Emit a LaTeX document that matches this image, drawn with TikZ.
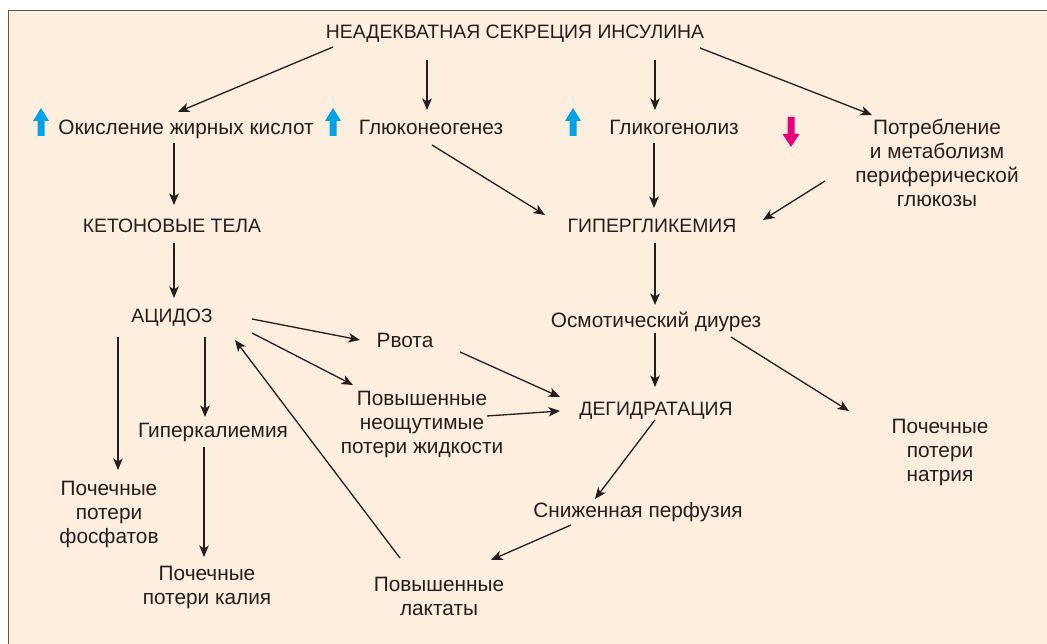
\documentclass[tikz,border=0pt]{standalone}
\usepackage{fontspec}
\setmainfont{Liberation Sans}
\usetikzlibrary{arrows.meta}
\definecolor{paper}{HTML}{FDEEDD}
\definecolor{frameline}{HTML}{5A5552}
\definecolor{ink}{HTML}{231F20}
\definecolor{upblue}{HTML}{00A3E4}
\definecolor{downpink}{HTML}{E6007E}
\begin{document}
\begin{tikzpicture}[x=1pt,y=-1pt,
  lbl/.style={font=\fontsize{20.8}{24}\selectfont, text=ink, inner sep=0pt, align=center, anchor=base},
  caps/.style={lbl, font=\fontsize{19.4}{24}\selectfont},
  arr/.style={draw=ink, line width=1.3pt, -{Stealth[length=11.5pt,width=9.5pt,inset=3pt]}},
  uparrow/.pic={\fill[upblue] (0,0) -- (8,13) -- (3.5,13) -- (3.5,28) -- (-3.5,28) -- (-3.5,13) -- (-8,13) -- cycle;},
  downarrow/.pic={\fill[downpink] (0,0) -- (8.5,-13) -- (3.5,-13) -- (3.5,-30) -- (-3.5,-30) -- (-3.5,-13) -- (-8.5,-13) -- cycle;}]
% page and panel
\useasboundingbox (0,0) rectangle (1047,644);
\fill[white] (0,0) rectangle (1047,644);
\filldraw[fill=paper, draw=frameline, line width=1.6pt] (8.5,10.5) rectangle (1070,670);

% labels (multi-line labels are placed by the baseline of their last line)
\node[caps] (top) at (515,39) {НЕАДЕКВАТНАЯ СЕКРЕЦИЯ ИНСУЛИНА};
\node[lbl] (oxid) at (186,135) {Окисление жирных кислот};
\node[lbl] (gneo) at (431,135) {Глюконеогенез};
\node[lbl] (glys) at (674,135) {Гликогенолиз};
\node[lbl] (use) at (937,207) {Потребление\\и метаболизм\\периферической\\глюкозы};
\node[caps] (ket) at (172,233) {КЕТОНОВЫЕ ТЕЛА};
\node[caps] (hyper) at (652,233) {ГИПЕРГЛИКЕМИЯ};
\node[caps] (acid) at (172,323) {АЦИДОЗ};
\node[lbl] (osm) at (656,327) {Осмотический диурез};
\node[lbl] (vom) at (405,348) {Рвота};
\node[lbl] (insens) at (422,453) {Повышенные\\неощутимые\\потери жидкости};
\node[caps] (dehyd) at (656,415) {ДЕГИДРАТАЦИЯ};
\node[lbl] (hyperk) at (213,437) {Гиперкалиемия};
\node[lbl] (natr) at (940,481) {Почечные\\потери\\натрия};
\node[lbl] (phos) at (109,543) {Почечные\\потери\\фосфатов};
\node[lbl] (perf) at (638,517) {Сниженная перфузия};
\node[lbl] (kal) at (207,604) {Почечные\\потери калия};
\node[lbl] (lact) at (439,615) {Повышенные\\лактаты};

% increase / decrease markers
\pic at (41,108) {uparrow};
\pic at (333,108) {uparrow};
\pic at (573,108) {uparrow};
\pic at (791,147) {downarrow};

% connectors
\draw[arr] ([shift={(-182,8)}]top.base) -- ([shift={(-8,-23)}]oxid.base);
\draw[arr] ([shift={(-88,21)}]top.base) -- ([shift={(-4,-25)}]gneo.base);
\draw[arr] ([shift={(140,21)}]top.base) -- ([shift={(-19,-25)}]glys.base);
\draw[arr] ([shift={(185,9)}]top.base) -- ([shift={(-65,-92)}]use.base);
\draw[arr] ([shift={(-12,8)}]oxid.base) -- ([shift={(2,-28)}]ket.base);
\draw[arr] ([shift={(1,10)}]gneo.base) -- ([shift={(-107,-18)}]hyper.base);
\draw[arr] ([shift={(-20,8)}]glys.base) -- ([shift={(2,-25)}]hyper.base);
\draw[arr] ([shift={(-112,-26)}]use.base) -- ([shift={(111,-13)}]hyper.base);
\draw[arr] ([shift={(2,10)}]ket.base) -- ([shift={(2,-25)}]acid.base);
\draw[arr] ([shift={(3,10)}]hyper.base) -- ([shift={(-1,-22)}]osm.base);
\draw[arr] ([shift={(80,-4)}]acid.base) -- ([shift={(-45,-8)}]vom.base);
\draw[arr] ([shift={(80,10)}]acid.base) -- ([shift={(-69,-68)}]insens.base);
\draw[arr] ([shift={(-54,14)}]acid.base) -- ([shift={(9,-73)}]phos.base);
\draw[arr] ([shift={(33,14)}]acid.base) -- ([shift={(-8,-20)}]hyperk.base);
\draw[arr] ([shift={(-9,10)}]hyperk.base) -- ([shift={(-3,-47)}]kal.base);
\draw[arr] ([shift={(55,4)}]vom.base) -- ([shift={(-96,-18)}]dehyd.base);
\draw[arr] ([shift={(65,-37)}]insens.base) -- ([shift={(-96,-4)}]dehyd.base);
\draw[arr] ([shift={(-1,6)}]osm.base) -- ([shift={(-1,-28)}]dehyd.base);
\draw[arr] ([shift={(75,10)}]osm.base) -- ([shift={(-91,-70)}]natr.base);
\draw[arr] ([shift={(-1,5)}]dehyd.base) -- ([shift={(-43,-18)}]perf.base);
\draw[arr] ([shift={(-67,8)}]perf.base) -- ([shift={(52,-55)}]lact.base);
\draw[arr] ([shift={(-39,-57)}]lact.base) -- ([shift={(63,17)}]acid.base);
\end{tikzpicture}
\end{document}
